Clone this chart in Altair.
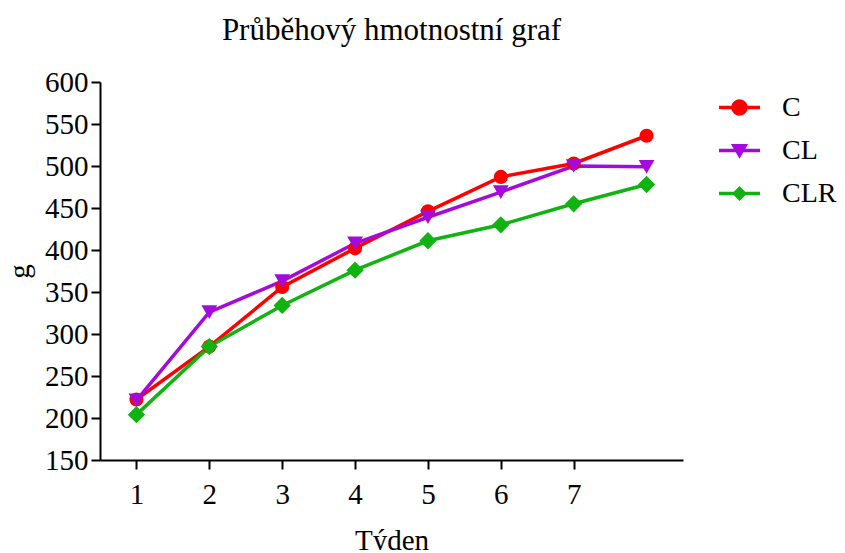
import altair as alt
import pandas as pd

weeks = [1, 2, 3, 4, 5, 6, 7, 8]
series_names = ["C", "CL", "CLR"]
c_vals = [222, 285, 356, 402, 446, 487, 503, 536]
cl_vals = [221, 326, 363, 408, 439, 469, 500, 499]
clr_vals = [204, 285, 334, 376, 411, 430, 455, 478]
colors = ["#FF0000", "#A50ADC", "#10B310"]
marker_shapes = ["circle", "triangle-down", "diamond"]
marker_sizes = [200, 250, 300]
x_ticks = [1, 2, 3, 4, 5, 6, 7]

rows = []
for name, vals in zip(series_names, [c_vals, cl_vals, clr_vals]):
    for w, v in zip(weeks, vals):
        rows.append({"week": w, "g": v, "series": name})
df = pd.DataFrame(rows)

FONT = "Liberation Serif"

x = alt.X("week:Q", scale=alt.Scale(domain=[0.5, 8.5], nice=False, zero=False),
          axis=alt.Axis(values=x_ticks, title="Týden", grid=False, format="d",
                        tickSize=9, tickWidth=2, domainWidth=2, domainColor="black",
                        tickColor="black", labelFontSize=29, labelFont=FONT,
                        labelColor="black", labelPadding=11, titleFont=FONT,
                        titleFontSize=29, titleFontWeight="normal", titleColor="black",
                        titlePadding=17))
y = alt.Y("g:Q", scale=alt.Scale(domain=[150, 600], nice=False, zero=False),
          axis=alt.Axis(values=list(range(150, 601, 50)), title="g", grid=False,
                        tickSize=9, tickWidth=2, domainWidth=2, domainColor="black",
                        tickColor="black", labelFontSize=29, labelFont=FONT,
                        labelColor="black", labelPadding=3, titleFont=FONT,
                        titleFontSize=29, titleFontWeight="normal", titleColor="black",
                        titlePadding=10))

legend_paths = [
    "M-1,-0.085H1V0.085H-1ZM0.4,0A0.4,0.4,0,1,1,-0.4,0A0.4,0.4,0,1,1,0.4,0Z",
    "M-1,-0.085H1V0.085H-1ZM-0.42,-0.32L0.42,-0.32L0,0.4Z",
    "M-1,-0.085H1V0.085H-1ZM0,-0.36L0.36,0L0,0.36L-0.36,0Z",
]

legend_props = dict(title=None, labelFont=FONT, labelFontSize=28, labelColor="black",
                    symbolSize=1681, symbolOpacity=1, rowPadding=8, labelOffset=22,
                    orient="none", legendX=619, legendY=5, padding=0,
                    symbolStrokeWidth=0)

base = alt.Chart(df)
lines = base.mark_line(strokeWidth=3.5).encode(
    x=x, y=y,
    color=alt.Color("series:N", scale=alt.Scale(domain=series_names, range=colors), legend=None),
    detail="series:N")

point_layers = []
for name, shp, sz in zip(series_names, marker_shapes, marker_sizes):
    point_layers.append(
        base.transform_filter(alt.datum.series == name)
        .mark_point(filled=True, opacity=1, size=sz, shape=shp)
        .encode(x=x, y=y,
                color=alt.Color("series:N", scale=alt.Scale(domain=series_names, range=colors),
                                legend=None))
    )

legend_layer = base.mark_point(filled=True, opacity=1, size=0).encode(
    x=x, y=y,
    color=alt.Color("series:N", scale=alt.Scale(domain=series_names, range=colors),
                    legend=alt.Legend(**legend_props)),
    shape=alt.Shape("series:N", scale=alt.Scale(domain=series_names, range=legend_paths),
                    legend=alt.Legend(**legend_props)),
)

chart = alt.layer(legend_layer, lines, *point_layers).resolve_scale(
    color="independent", shape="independent"
).properties(
    width=583, height=378,
    background="white",
    title=alt.Title("Průběhový hmotnostní graf", font=FONT, fontSize=31,
                    fontWeight="normal", color="black", anchor="middle", offset=21),
    autosize=alt.AutoSizeParams(type="none"),
    padding={"left": 92, "top": 74, "right": 154, "bottom": 90},
).configure_view(stroke="transparent", strokeWidth=0)

chart.save("out.html", embed_options={"renderer": "svg", "actions": False})
